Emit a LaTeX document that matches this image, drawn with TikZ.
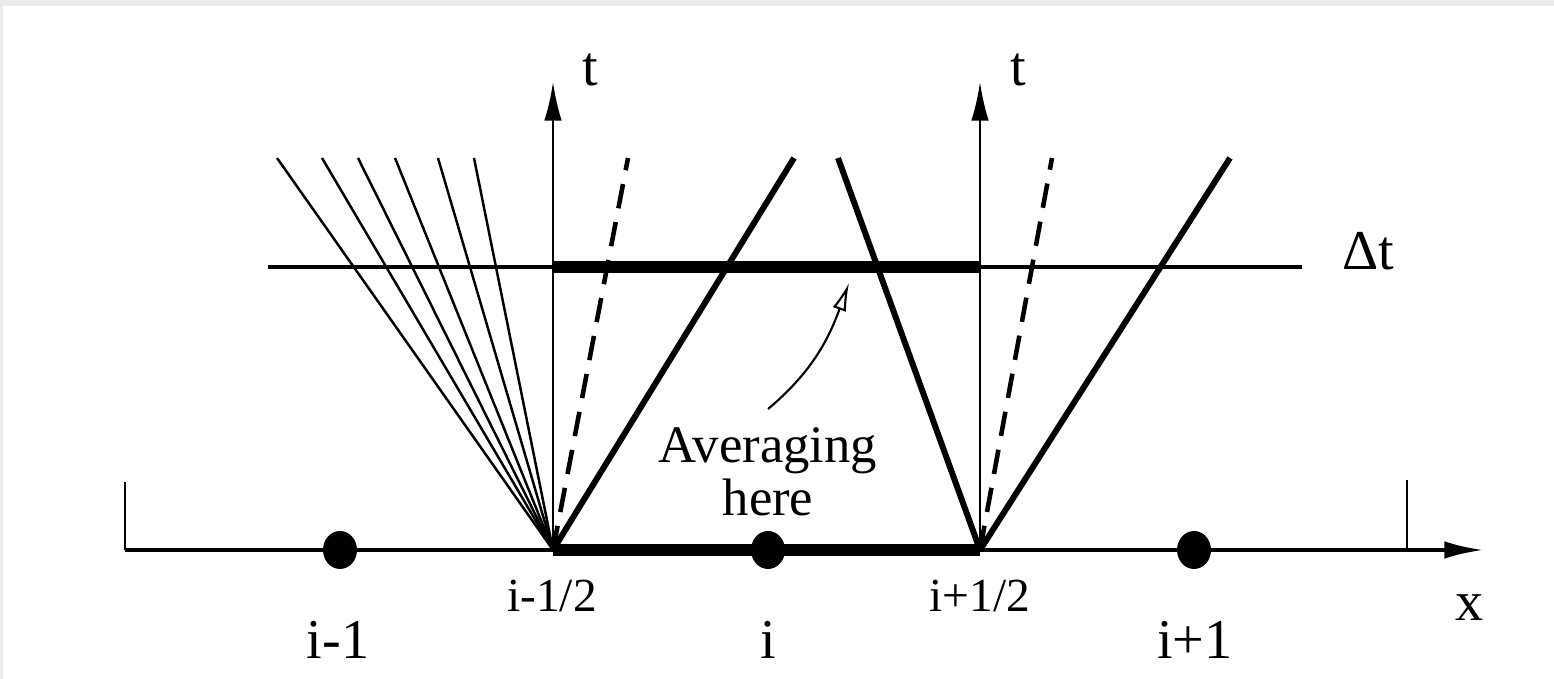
\documentclass[tikz,border=0pt]{standalone}
\usepackage{fontspec}
\setmainfont{Liberation Serif}
\usepackage{tikz}
\usetikzlibrary{arrows.meta,positioning,shapes.geometric}
\definecolor{ink}{HTML}{000000}
\definecolor{paper}{HTML}{FFFFFF}
\definecolor{scanedge}{HTML}{ECECEC}
\tikzset{
  axis/.style={-{Latex[length=11pt,width=5pt]}, line width=0.7pt, color=ink},
  xaxis/.style={-{Latex[length=11pt,width=5pt]}, line width=1pt, color=ink},
  fan/.style={line width=0.7pt, color=ink},
  level/.style={line width=0.9pt, color=ink},
  wave/.style={line width=1.7pt, color=ink},
  contact/.style={line width=1.3pt, color=ink, dash pattern=on 7pt off 4pt},
  cell/.style={line width=3.4pt, color=ink},
  dot/.style={ellipse, fill=ink, inner sep=0pt,
    minimum width=0.34cm, minimum height=0.38cm},
  lbl/.style={font=\fontsize{16}{16}\selectfont, inner sep=0pt},
  halflbl/.style={font=\fontsize{13.5}{13.5}\selectfont, inner sep=0pt},
  note/.style={font=\fontsize{15}{15}\selectfont, align=center, inner sep=0pt},
  pointer/.style={-{Latex[open,length=8pt,width=4pt]}, line width=0.6pt, color=ink},
}

\begin{document}
\begin{tikzpicture}

  \fill[scanedge] (0,0) rectangle (15.54,6.79);
  \fill[paper] (0.03,0) rectangle (15.54,6.73);
  \useasboundingbox (0,0) rectangle (15.54,6.79);

  \coordinate (xs top) at (1.25,1.97);
  \coordinate (xs) at (1.25,1.29);
  \coordinate (xe) at (14.83,1.29);
  \coordinate (xt) at (14.07,1.29);
  \coordinate (xt top) at (14.07,1.99);
  \coordinate (il) at (5.53,1.29);
  \coordinate (ir) at (9.80,1.29);
  \coordinate (tl) at (5.53,5.97);
  \coordinate (tr) at (9.80,5.97);
  \coordinate (dl) at (2.68,4.12);
  \coordinate (dr) at (13.02,4.12);
  \coordinate (al) at (5.53,4.12);
  \coordinate (ar) at (9.80,4.12);

  \draw[xaxis] (xs) -- (xe);
  \draw[fan] (xs top) -- (xs);
  \draw[fan] (xt top) -- (xt);
  \draw[cell] (il) -- (ir);

  \node[dot] (cm) at (3.40,1.29) {};
  \node[dot] (c)  at (7.68,1.29) {};
  \node[dot] (cp) at (11.94,1.29) {};

  \draw[axis] (il) -- (tl);
  \draw[axis] (ir) -- (tr);

  \draw[level] (dl) -- (dr);
  \draw[cell] (al) -- (ar);

  % rarefaction fan at i-1/2
  \foreach \x [count=\k] in {2.77,3.22,3.58,3.95,4.38,4.74} {
    \coordinate (f\k) at (\x,5.21);
    \draw[fan] (il) -- (f\k);
  }

  \coordinate (cl) at (6.28,5.21);
  \coordinate (sl) at (7.94,5.21);
  \coordinate (sm) at (8.38,5.21);
  \coordinate (cr) at (10.52,5.21);
  \coordinate (sr) at (12.30,5.21);

  \draw[contact] (il) -- (cl);
  \draw[wave] (il) -- (sl);
  \draw[wave] (ir) -- (sm);
  \draw[contact] (ir) -- (cr);
  \draw[wave] (ir) -- (sr);

  \node[lbl] (tlbl) at (5.90,6.09) {t};
  \node[lbl] (trlbl) at (10.18,6.09) {t};
  \node[lbl] (dtlbl) at (13.68,4.28) {Δt};
  \node[lbl] (xlbl) at (14.70,0.71) {x};

  \node[lbl] (cmlbl) at (3.38,0.39) {i-1};
  \node[lbl] (clbl)  at (7.68,0.39) {i};
  \node[lbl] (cplbl) at (11.95,0.39) {i+1};
  \node[halflbl] (illbl) at (5.52,0.83) {i-1/2};
  \node[halflbl] (irlbl) at (9.80,0.83) {i+1/2};

  \node[note] (avg) at (7.68,2.07) {Averaging\\here};
  \coordinate (ptail) at (7.68,2.70);
  \coordinate (phead) at (8.49,3.96);
  \draw[pointer] (ptail) to[out=40,in=250] (phead);

\end{tikzpicture}
\end{document}
